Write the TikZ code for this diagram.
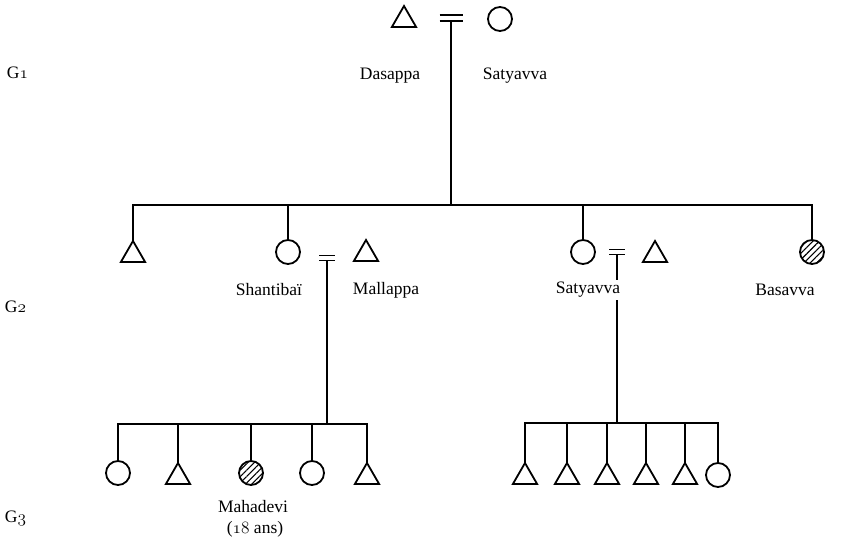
\documentclass[tikz,border=0pt]{standalone}
\usepackage{fontspec}
\setmainfont{Liberation Serif}
\usetikzlibrary{shapes.geometric,patterns.meta,calc}
% old-style figures taken from the math italic font
\newcommand{\osnum}[1]{$\mathnormal{#1}$}
\begin{document}
\begin{tikzpicture}[x=1pt,y=-1pt,line width=1.8pt,
  fem/.style={circle,draw,minimum size=24pt,inner sep=0pt,outer sep=0pt},
  masc/.style={regular polygon,regular polygon sides=3,draw,minimum size=28pt,inner sep=0pt,outer sep=0pt},
  hatched/.style={fem,pattern={Lines[angle=45,distance=4.5pt,line width=1.1pt]}},
  lbl/.style={font=\fontsize{17.5}{21}\selectfont,inner sep=0pt},
  gen/.style={lbl,anchor=west}]
\useasboundingbox (0,0) rectangle (852,545);

% generation labels
\node[gen] (g1) at (6,73) {G\osnum{1}};
\node[gen] (g2) at (4,307) {G\osnum{2}};
\node[gen] (g3) at (4,518) {G\osnum{3}};

% first generation couple
\node[masc] (dasappa) at (404,20) {};
\node[fem] (satyavvaA) at (500,19) {};
\coordinate (m1) at (451,18);
\draw ($(m1)+(-11.5,-3)$) -- ($(m1)+(11.5,-3)$);
\draw ($(m1)+(-11.5,3)$) -- ($(m1)+(11.5,3)$);
\coordinate (j1) at (451,205);
\draw ($(m1)+(0,3)$) -- (j1);
\node[lbl] (ldasappa) at (390,76) {Dasappa};
\node[lbl] (lsatyavvaA) at (515,76) {Satyavva};

% second generation
\node[masc] (b1) at (133,255) {};
\node[fem] (shantibai) at (288,252) {};
\node[fem] (satyavvaB) at (583,252) {};
\node[hatched] (basavva) at (812,252) {};
\node[masc] (mallappa) at (366,254) {};
\node[masc] (h2) at (655,255) {};
\draw (b1.corner 1) -- (b1.corner 1 |- j1) -- (basavva.north |- j1) -- (basavva.north);
\draw (shantibai.north) -- (shantibai.north |- j1);
\draw (satyavvaB.north) -- (satyavvaB.north |- j1);

% marriage signs and descent lines of the two couples
\coordinate (m2) at (327,258);
\draw ($(m2)+(-8,-2.5)$) -- ($(m2)+(8,-2.5)$);
\draw ($(m2)+(-8,2.5)$) -- ($(m2)+(8,2.5)$);
\coordinate (j2) at (327,424);
\draw ($(m2)+(0,2.5)$) -- (j2);
\coordinate (m3) at (617,252);
\draw ($(m3)+(-8,-2.5)$) -- ($(m3)+(8,-2.5)$);
\draw ($(m3)+(-8,2.5)$) -- ($(m3)+(8,2.5)$);
\coordinate (j3) at (617,423);
\draw ($(m3)+(0,2.5)$) -- (j3);

\node[lbl] (lshantibai) at (269,290) {Shantibaï};
\node[lbl] (lmallappa) at (386,290) {Mallappa};
\node[lbl,fill=white,inner xsep=1pt,inner ysep=2pt] (lsatyavvaB) at (588,290) {Satyavva};
\node[lbl] (lbasavva) at (785,290) {Basavva};

% third generation, left family
\node[fem] (c1) at (118,473) {};
\node[masc] (c2) at (178,477) {};
\node[hatched] (mahadevi) at (251,473) {};
\node[fem] (c4) at (312,473) {};
\node[masc] (c5) at (367,477) {};
\draw (c1.north) -- (c1.north |- j2) -- (c5.corner 1 |- j2) -- (c5.corner 1);
\draw (c2.corner 1) -- (c2.corner 1 |- j2);
\draw (mahadevi.north) -- (mahadevi.north |- j2);
\draw (c4.north) -- (c4.north |- j2);
\node[lbl] (lmahadevi) at (253,507) {Mahadevi};
\node[lbl] (lage) at (255,529) {(\osnum{18} ans)};

% third generation, right family
\node[masc] (d1) at (525,477) {};
\node[masc] (d2) at (567,477) {};
\node[masc] (d3) at (607,477) {};
\node[masc] (d4) at (646,477) {};
\node[masc] (d5) at (685,477) {};
\node[fem] (d6) at (718,475) {};
\draw (d1.corner 1) -- (d1.corner 1 |- j3) -- (d6.north |- j3) -- (d6.north);
\foreach \c in {d2,d3,d4,d5} \draw (\c.corner 1) -- (\c.corner 1 |- j3);
\end{tikzpicture}
\end{document}
